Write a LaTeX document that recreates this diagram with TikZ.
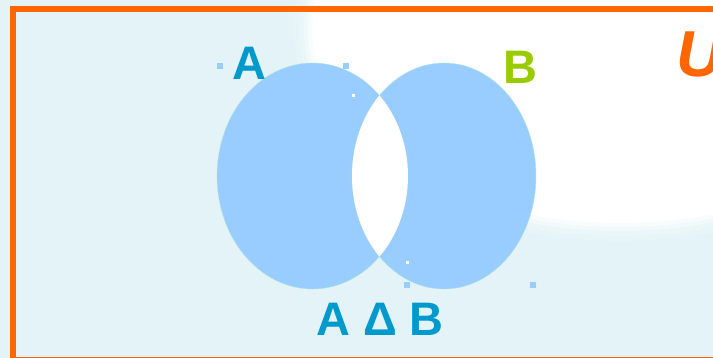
\documentclass[tikz,border=0pt]{standalone}
\usepackage{fontspec}
\setmainfont{Liberation Sans}
\definecolor{bgc}{HTML}{E4F3F8}
\definecolor{setc}{HTML}{99CCFF}
\definecolor{txtblue}{HTML}{0099CC}
\definecolor{txtgreen}{HTML}{99CC00}
\definecolor{frame}{HTML}{FF6600}
\definecolor{handle}{HTML}{99CCFF}
\tikzset{
  setfill/.style={fill=setc, draw=setc!80!green!60!white, line width=0.4pt},
  lbl/.style={font=\fontsize{47}{47}\selectfont\bfseries, inner sep=0pt, anchor=base},
  hdl/.style={fill=handle, draw=none, minimum width=6pt, minimum height=6pt, inner sep=0pt},
  hdlw/.style={fill=white, draw=none, minimum width=3pt, minimum height=3pt, inner sep=0pt},
}
\begin{document}
\begin{tikzpicture}[x=1pt,y=-1pt]
\useasboundingbox (0,0) rectangle (713,358);
\clip (0,0) rectangle (713,358);
\fill[bgc] (0,0) rectangle (713,358);
% soft white glow
\foreach \k/\o in {16/0.12,11/0.2,6/0.35,2/0.6}{
  \fill[white, opacity=\o] (620,30) ellipse [x radius=310+\k, y radius=195+\k];
}
\fill[white] (620,30) ellipse [x radius=308, y radius=193];
% frame
\draw[frame, line width=6pt] (13,9) rectangle (730,360);
% sets
\fill[setfill] (312.5,176) ellipse [x radius=95.5, y radius=113];
\fill[setfill] (444,176) ellipse [x radius=92, y radius=113];
\begin{scope}
  \clip (312.5,176) ellipse [x radius=95.5, y radius=113];
  \fill[white] (444,176) ellipse [x radius=92, y radius=113];
\end{scope}
% labels
\node[lbl, text=txtblue] (la) at (249,80) {A};
\node[lbl, text=txtgreen] (lb) at (520,84) {B};
\node[lbl, text=txtblue] (lab) at (380,336) {A Δ B};
\node[lbl, text=frame, font=\fontsize{65}{65}\selectfont\bfseries\itshape, anchor=base west] (lu) at (676,77) {U};
% handles
\node[hdl] (h1) at (220,66) {};
\node[hdl] (h2) at (346,66) {};
\node[hdl] (h3) at (407,285) {};
\node[hdl] (h4) at (533,285) {};
\node[hdlw] (h5) at (353,96) {};
\node[hdlw] (h6) at (407,263) {};
\end{tikzpicture}
\end{document}
